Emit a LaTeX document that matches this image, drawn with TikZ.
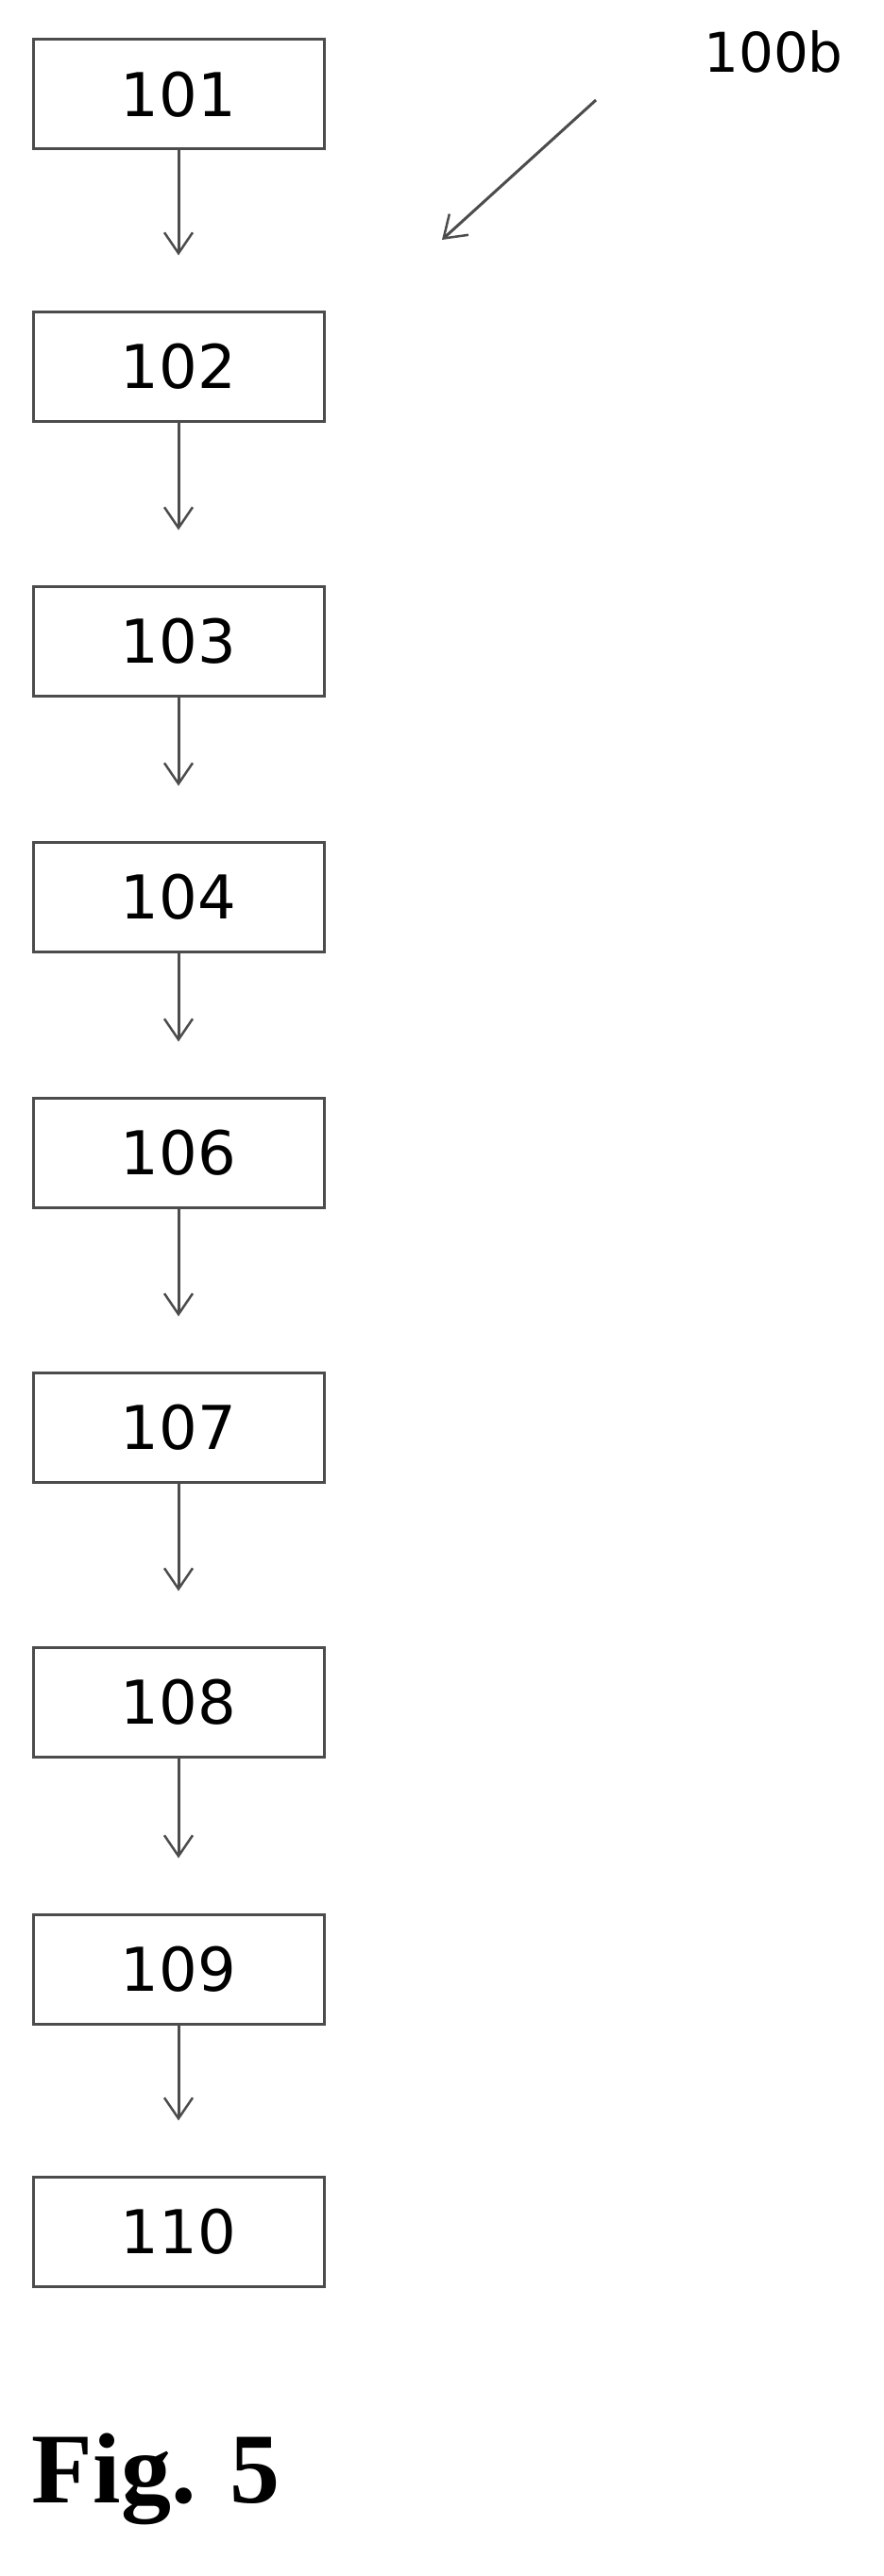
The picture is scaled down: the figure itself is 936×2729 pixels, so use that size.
\documentclass[tikz,border=0pt]{standalone}
\usepackage{fontspec}
\setmainfont{DejaVu Sans}
\newfontfamily\figfont{Liberation Serif}
\usetikzlibrary{arrows.meta}
\begin{document}
\begin{tikzpicture}[x=1pt,y=-1pt,
  stepbox/.style={draw=black!70,line width=3pt,minimum width=308pt,minimum height=116pt,inner sep=0pt,font=\fontsize{64}{74}\selectfont},
  conn/.style={draw=black!70,line width=3pt,-{Straight Barb[length=22pt,width=30pt,line width=2.5pt]}}]
\useasboundingbox (0,0) rectangle (936,2729);
\foreach \n/\y in {101/100,102/388,103/679,104/950,106/1221,107/1512,108/1803,109/2086,110/2364}{
  \node[stepbox] (b\n) at (189,\y) {\n};
}
\foreach \a/\b in {101/102,102/103,103/104,104/106,106/107,107/108,108/109,109/110}{
  \draw[conn] (b\a.south) -- ([yshift=58pt]b\b.north);
}
\node[font=\fontsize{58}{66}\selectfont] (lab) at (819,55) {100b};
\coordinate (ls) at (631,106);
\coordinate (le) at (468,254);
\draw[conn] (ls) -- (le);
\node[font=\figfont\bfseries\fontsize{106}{120}\selectfont] (fig) at (165,2626) {Fig. 5};
\end{tikzpicture}
\end{document}
